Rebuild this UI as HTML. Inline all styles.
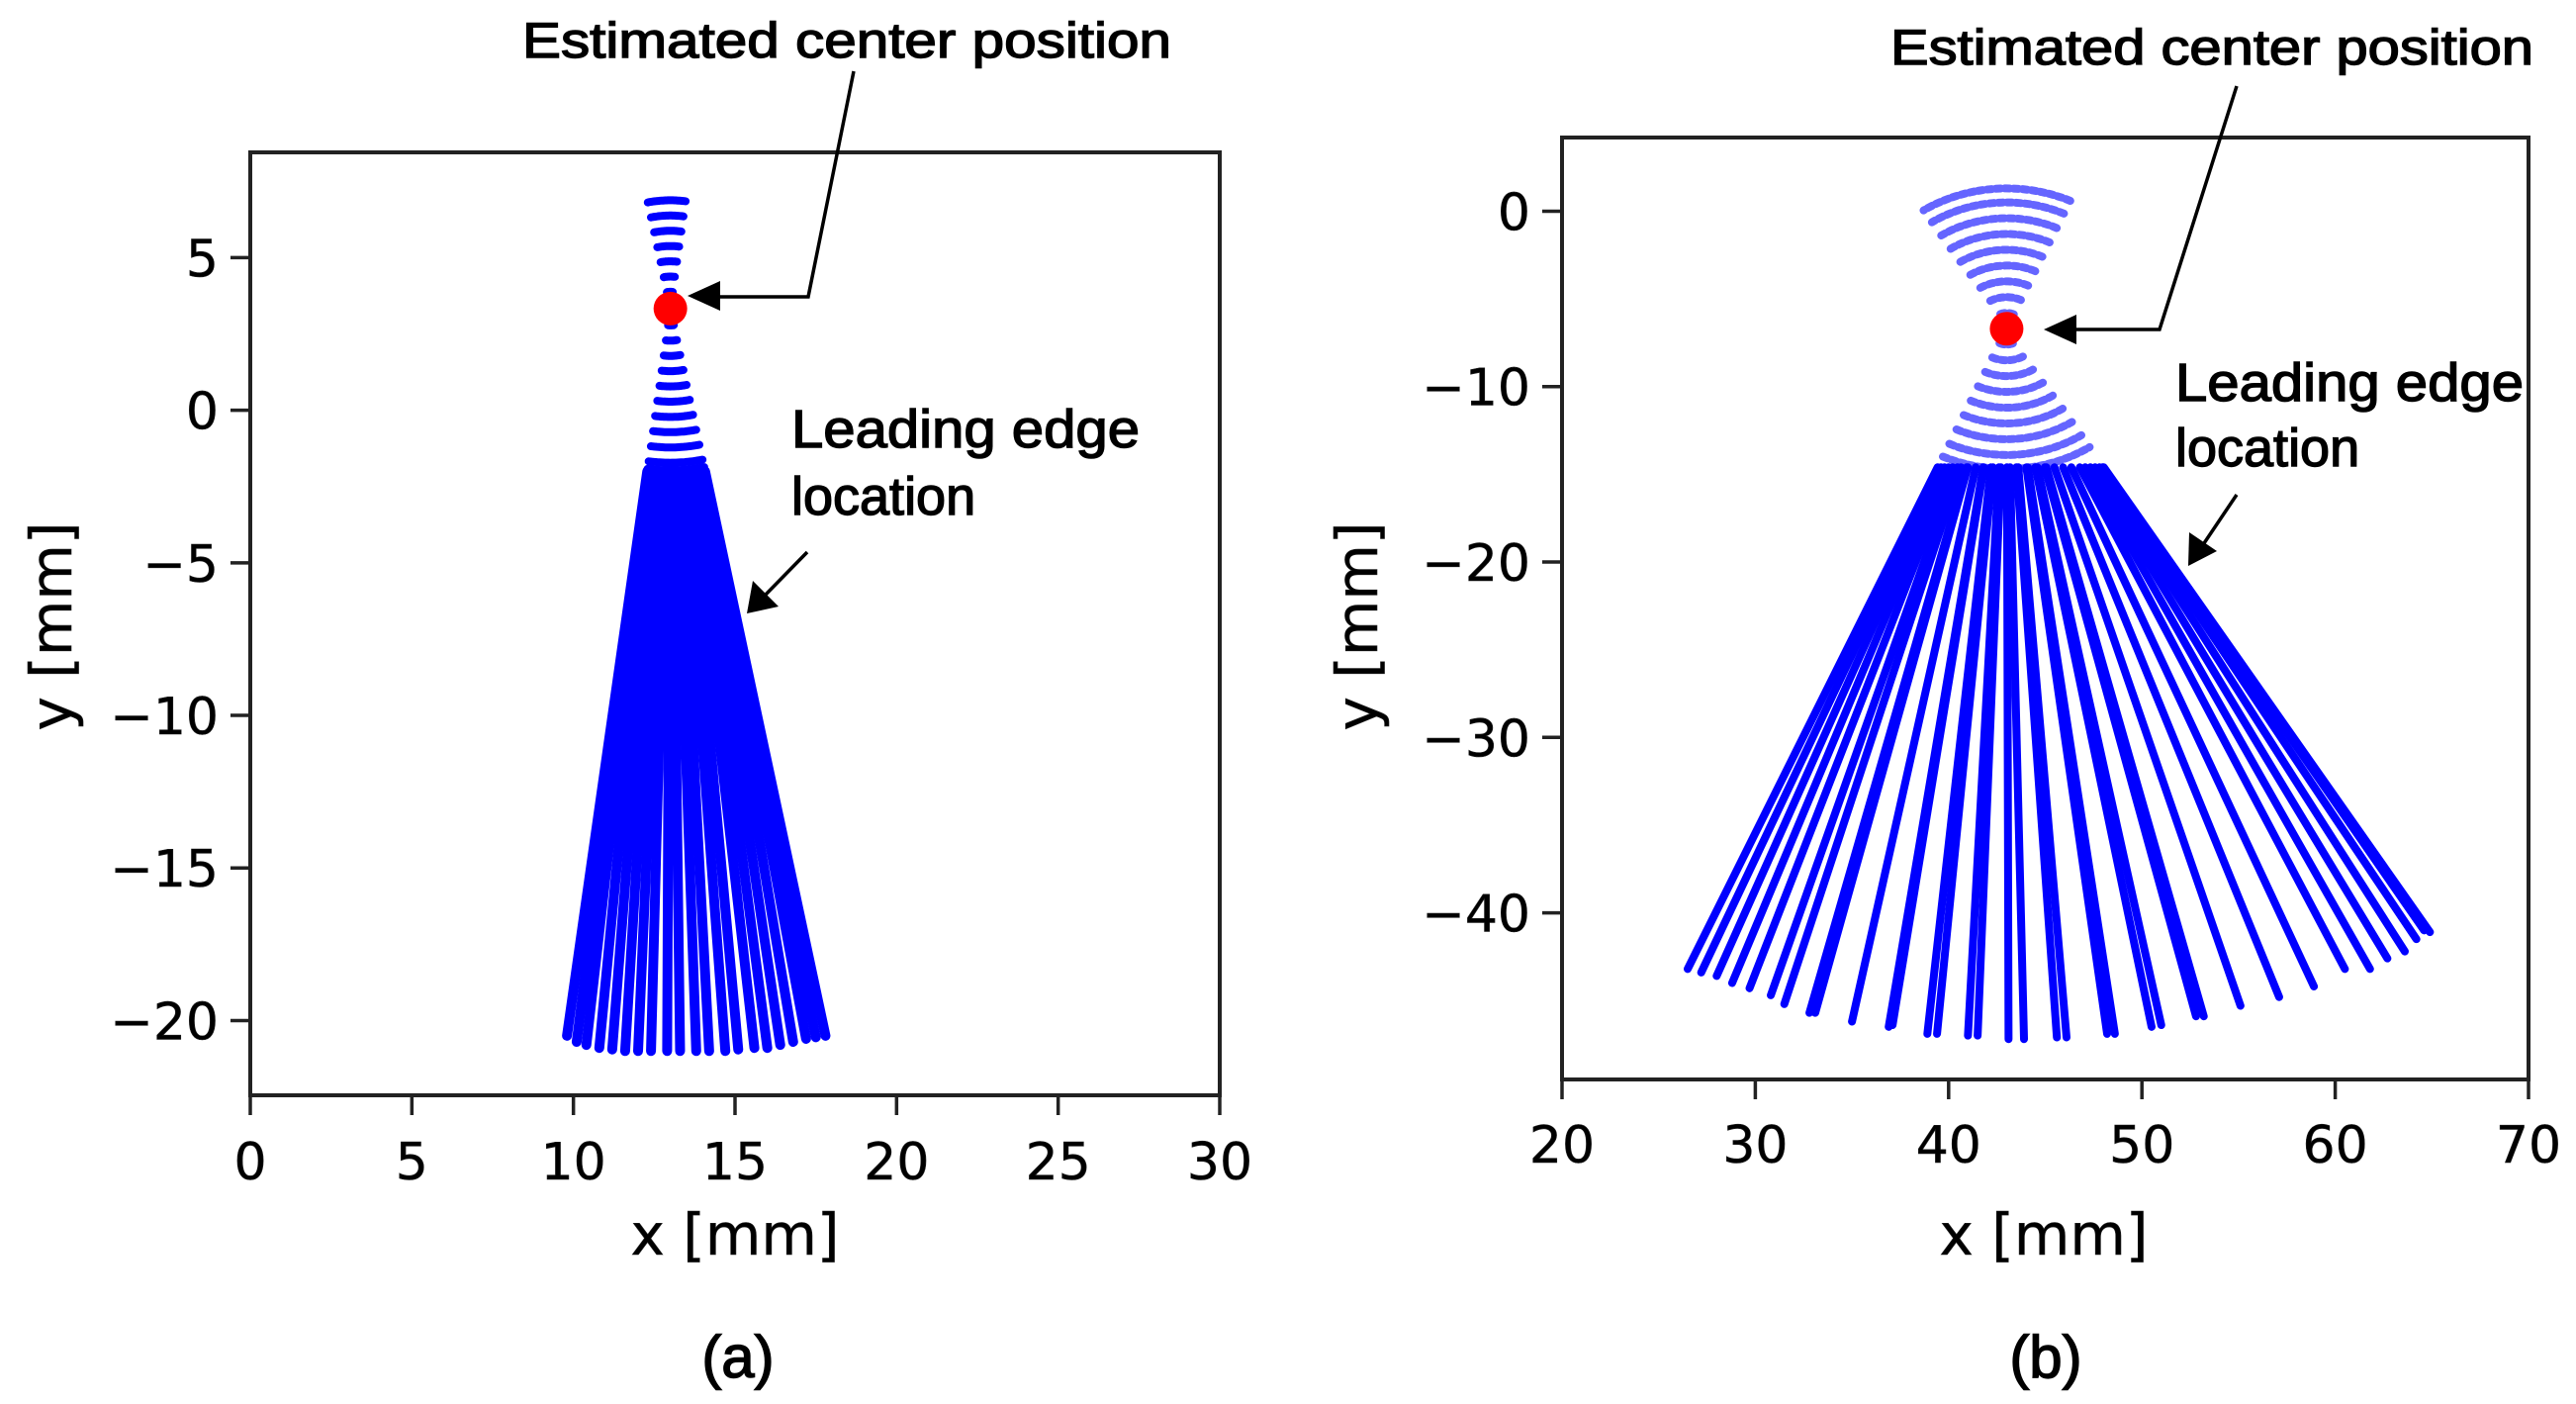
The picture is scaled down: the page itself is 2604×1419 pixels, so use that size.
<!DOCTYPE html>
<html>
<head>
<meta charset="utf-8">
<style>
html,body{margin:0;padding:0;background:#fff;}
svg{display:block;}
text{font-family:"DejaVu Sans","Liberation Sans",sans-serif;fill:#000;}
.ann{font-family:"Liberation Sans",sans-serif;stroke:#000;stroke-width:1.4;}
.tl{stroke:#222;stroke-width:0.6;}
</style>
</head>
<body>
<svg id="fig" width="2604" height="1419" viewBox="0 0 2604 1419" xmlns="http://www.w3.org/2000/svg">
</svg>
<script>
// ---------- Panel (a) data ----------
const aXTicks = [0,5,10,15,20,25,30];
const aYTicks = [5,0,-5,-10,-15,-20];
const aCenter = [13.0, 3.33];
const aEndX = [9.8,10.1,10.4,10.8,11.2,11.6,12.0,12.4,12.9,13.3,13.8,14.2,14.7,15.1,15.6,16.0,16.4,16.8,17.2,17.5,17.8];
const aEndY = [-20.5,-20.7,-20.8,-20.9,-20.95,-21,-21,-21,-21,-21,-21,-21,-21,-20.95,-20.9,-20.9,-20.8,-20.7,-20.6,-20.55,-20.5];
const aSolidStartY = [-2.0];
const aArcBelow = [0.55,1.05,1.55,2.05,2.55,3.05,3.55,4.05,4.55,5.05,5.3];
const aArcAbove = [0.55,1.05,1.55,2.05,2.55,3.05,3.55];

// ---------- Panel (b) data ----------
const bXTicks = [20,30,40,50,60,70];
const bYTicks = [0,-10,-20,-30,-40];
const bCenter = [43.0, -6.7];
const bEndX = [26.5,27.2,28.0,28.8,29.7,30.8,31.5,32.8,33.1,35.0,36.9,37.1,38.9,39.4,41.0,41.5,43.1,43.9,45.6,46.1,48.2,48.6,50.5,51.0,52.8,53.2,55.1,57.1,58.9,60.5,61.8,62.7,63.6,64.2,64.6,64.9];
const bEndY = [-43.2,-43.4,-43.6,-44.0,-44.3,-44.7,-45.2,-45.7,-45.7,-46.2,-46.5,-46.4,-46.9,-46.9,-47.0,-47.0,-47.2,-47.2,-47.1,-47.1,-46.9,-46.9,-46.5,-46.4,-45.9,-45.9,-45.3,-44.8,-44.2,-43.2,-43.2,-42.6,-42.2,-41.5,-41.0,-41.1];
const bSolidStartY = [-14.6];
const bArcBelow = [0.9,1.8,2.7,3.6,4.5,5.4,6.3,7.2,8.0];
const bArcAbove = [0.9,1.8,2.7,3.6,4.5,5.4,6.3,7.2,8.0];

const NS = "http://www.w3.org/2000/svg";
const svg = document.getElementById('fig');

function mk(tag, attrs, parent){
  const e = document.createElementNS(NS, tag);
  for (const k in attrs) e.setAttribute(k, attrs[k]);
  (parent||svg).appendChild(e);
  return e;
}

function drawPanel(p){
  const g = mk('g', {});
  
  
  const sx = v => p.L + (v - p.xmin) / (p.xmax - p.xmin) * (p.R - p.L);
  const sy = v => p.T + (p.ymax - v) / (p.ymax - p.ymin) * (p.B - p.T);
  const cx = p.center[0], cy = p.center[1];

  const angs = p.endX.map((x,i)=>Math.atan2(p.endY[i]-cy, x-cx));
  const aMin = Math.min(...angs), aMax = Math.max(...angs);

  const arcG = mk('g', {opacity: p.arcOpacity}, g);
  
  
  function arc(r, a0, a1){
    let d = '';
    const n = 30;
    for (let k=0;k<=n;k++){
      const a = a0 + (a1-a0)*k/n;
      const X = sx(cx + r*Math.cos(a)), Y = sy(cy + r*Math.sin(a));
      d += (k?'L':'M') + X.toFixed(1) + ' ' + Y.toFixed(1);
    }
    const e = mk('path', {d:d, fill:'none', stroke:'#0000ff', 'stroke-width':p.arcW, 'stroke-dasharray':p.arcDash, 'stroke-linecap':'round'}, arcG);
    
    
  }
  p.arcBelow.forEach(r=>arc(r, aMin, aMax));
  p.arcAbove.forEach(r=>arc(r, aMin+Math.PI, aMax+Math.PI));

  p.endX.forEach((x,i)=>{
    const y = p.endY[i];
    const t = (p.solidStartY[0]-cy)/(y-cy);
    const x0 = cx + (x-cx)*t;
    const e = mk('line', {x1:sx(x0), y1:sy(p.solidStartY[0]), x2:sx(x), y2:sy(y), stroke:'#0000ff', 'stroke-width':p.lineW, 'stroke-linecap':'round'}, g);
    
    
  });

  const dot = mk('circle', {cx:sx(cx), cy:sy(cy), r:17, fill:'#ff0000'}, g);
  
  

  const fr = mk('rect', {x:p.L, y:p.T, width:p.R-p.L, height:p.B-p.T, fill:'none', stroke:'#222', 'stroke-width':4}, g);
  
  

  p.xTicks.forEach(v=>{
    const X = sx(v);
    const t = mk('line', {x1:X, y1:p.B, x2:X, y2:p.B+20, stroke:'#222', 'stroke-width':3.5}, g);
    
    
    const l = mk('text', {x:X, y:p.xLabY, 'font-size':52, 'text-anchor':'middle', fill:'#222', 'class':'tl'}, g);
    l.textContent = String(v);
    
    
  });
  p.yTicks.forEach(v=>{
    const Y = sy(v);
    const t = mk('line', {x1:p.L-20, y1:Y, x2:p.L, y2:Y, stroke:'#222', 'stroke-width':3.5}, g);
    
    
    const l = mk('text', {x:p.L-32, y:Y+19, 'font-size':52, 'text-anchor':'end', fill:'#222', 'class':'tl'}, g);
    l.textContent = v < 0 ? '\u2212' + Math.abs(v) : String(v);
    
    
  });
}

drawPanel({name:'panel-a', L:253, R:1233, T:154, B:1107, xmin:0, xmax:30, ymin:-22.45, ymax:8.45,
  xTicks:aXTicks, yTicks:aYTicks, center:aCenter, endX:aEndX, endY:aEndY, solidStartY:aSolidStartY,
  arcBelow:aArcBelow, arcAbove:aArcAbove, arcOpacity:1, arcW:8, arcDash:'none', lineW:10, xLabY:1192});

drawPanel({name:'panel-b', L:1579, R:2556, T:139, B:1091, xmin:20, xmax:70, ymin:-49.5, ymax:4.2,
  xTicks:bXTicks, yTicks:bYTicks, center:bCenter, endX:bEndX, endY:bEndY, solidStartY:bSolidStartY,
  arcBelow:bArcBelow, arcAbove:bArcAbove, arcOpacity:0.6, arcW:8, arcDash:'5 4', lineW:8, xLabY:1175});
</script>

<svg style="position:absolute;left:0;top:0" width="2604" height="1419" xmlns="http://www.w3.org/2000/svg">
  <text class="ann" x="528" y="58" font-size="50" textLength="656" lengthAdjust="spacingAndGlyphs">Estimated center position</text>
  <polyline points="863,72 817,300 722,300" fill="none" stroke="#000" stroke-width="3.5"/>
  <polygon points="695,299 728,284 728,314" fill="#000"/>
  <text class="ann" x="800" y="452" font-size="54" textLength="352" lengthAdjust="spacingAndGlyphs">Leading edge</text>
  <text class="ann" x="800" y="520" font-size="54">location</text>
  <line x1="816" y1="558" x2="770" y2="605" stroke="#000" stroke-width="3.5"/>
  <polygon points="755,620 761,587 787,613" fill="#000"/>
  <text class="tl" x="743" y="1268" font-size="58" text-anchor="middle">x [mm]</text>
  <text class="tl" x="0" y="0" font-size="58" text-anchor="middle" transform="translate(72,633) rotate(-90)">y [mm]</text>
  <text class="ann" x="746" y="1392" font-size="60" text-anchor="middle">(a)</text>

  <text class="ann" x="1911" y="65" font-size="50" textLength="650" lengthAdjust="spacingAndGlyphs">Estimated center position</text>
  <polyline points="2261,87 2183,333 2093,333" fill="none" stroke="#000" stroke-width="3.5"/>
  <polygon points="2066,333 2099,318 2099,348" fill="#000"/>
  <text class="ann" x="2199" y="405" font-size="54" textLength="352" lengthAdjust="spacingAndGlyphs">Leading edge</text>
  <text class="ann" x="2199" y="471" font-size="54">location</text>
  <line x1="2261" y1="500" x2="2224" y2="555" stroke="#000" stroke-width="3.5"/>
  <polygon points="2212,572 2213,538 2241,557" fill="#000"/>
  <text class="tl" x="2066" y="1268" font-size="58" text-anchor="middle">x [mm]</text>
  <text class="tl" x="0" y="0" font-size="58" text-anchor="middle" transform="translate(1392,633) rotate(-90)">y [mm]</text>
  <text class="ann" x="2068" y="1392" font-size="60" text-anchor="middle">(b)</text>
</svg>
</body>
</html>
